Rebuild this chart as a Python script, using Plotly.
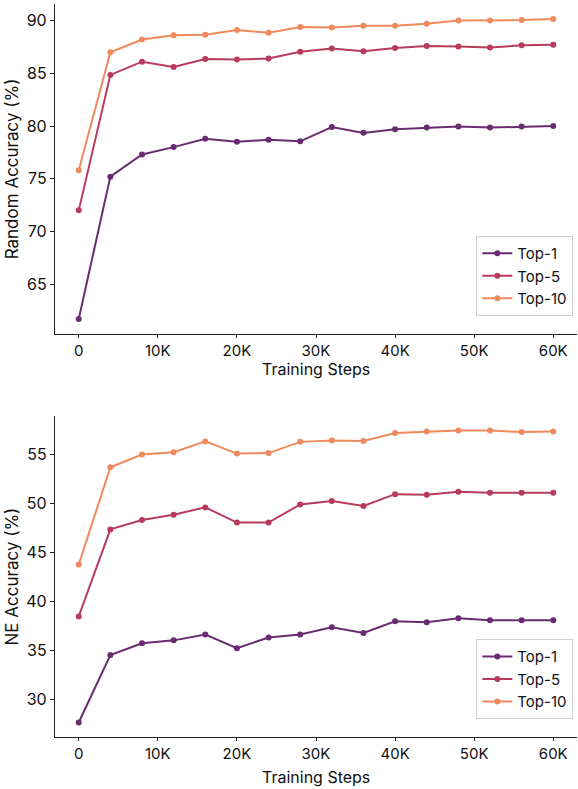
import plotly.graph_objects as go
from plotly.subplots import make_subplots

steps = [0, 4000, 8000, 12000, 16000, 20000, 24000, 28000, 32000, 36000,
         40000, 44000, 48000, 52000, 56000, 60000]
x_tickvals = [0, 10000, 20000, 30000, 40000, 50000, 60000]
x_ticktext = ["0", "10K", "20K", "30K", "40K", "50K", "60K"]

rand_top1 = [61.7, 75.2, 77.3, 78.0, 78.8, 78.5, 78.7, 78.55, 79.9, 79.35,
             79.7, 79.85, 79.95, 79.85, 79.95, 80.0]
rand_top5 = [72.0, 84.85, 86.1, 85.6, 86.35, 86.3, 86.4, 87.05, 87.35, 87.1,
             87.4, 87.6, 87.55, 87.45, 87.65, 87.7]
rand_top10 = [75.8, 87.0, 88.2, 88.6, 88.65, 89.1, 88.85, 89.4, 89.35, 89.5,
              89.5, 89.7, 90.0, 90.0, 90.05, 90.15]

ne_top1 = [27.6, 34.5, 35.7, 36.0, 36.6, 35.2, 36.3, 36.6, 37.35, 36.75,
           37.95, 37.85, 38.25, 38.05, 38.05, 38.05]
ne_top5 = [38.45, 47.35, 48.3, 48.85, 49.6, 48.05, 48.05, 49.9, 50.25, 49.75,
           50.95, 50.9, 51.2, 51.1, 51.1, 51.1]
ne_top10 = [43.75, 53.7, 55.0, 55.25, 56.35, 55.1, 55.15, 56.3, 56.45, 56.4,
            57.2, 57.35, 57.45, 57.45, 57.3, 57.35]

series_names = ["Top-1", "Top-5", "Top-10"]
colors = ["#6a2c70", "#b83b5e", "#f08a5d"]
x_title = "Training Steps"
y_titles = ["Random Accuracy (%)", "NE Accuracy (%)"]

FONT = "Inter, Liberation Sans, Arial, sans-serif"

fig = make_subplots(rows=2, cols=1, vertical_spacing=0.11)

panels = [
    (1, [rand_top1, rand_top5, rand_top10], "legend"),
    (2, [ne_top1, ne_top5, ne_top10], "legend2"),
]
for row, data, leg in panels:
    for name, vals, c in zip(series_names, data, colors):
        fig.add_trace(go.Scatter(
            x=steps, y=vals, mode="lines+markers", name=name,
            line=dict(color=c, width=2),
            marker=dict(color=c, size=6),
            legend=leg,
        ), row=row, col=1)


def pad_range(arrs):
    lo = min(min(a) for a in arrs)
    hi = max(max(a) for a in arrs)
    m = (hi - lo) * 0.05
    return [lo - m, hi + m]


axis_common = dict(
    showline=True, linecolor="#222", linewidth=1.3,
    ticks="outside", ticklen=4, tickwidth=1.2, tickcolor="#222",
    showgrid=False, zeroline=False, mirror=False,
    tickfont=dict(family=FONT, size=16, color="#111"),
)

for i in (1, 2):
    fig.update_xaxes(axis_common, row=i, col=1, ticklen=3,
                     tickfont=dict(family=FONT, size=15, color="#111"),
                     range=[-3000, 63000], tickvals=x_tickvals, ticktext=x_ticktext)

fig.update_yaxes(axis_common, row=1, col=1, dtick=5,
                 range=pad_range([rand_top1, rand_top5, rand_top10]),
                 title=dict(text=y_titles[0], standoff=3,
                            font=dict(family=FONT, size=17, color="#111")))
fig.update_yaxes(axis_common, row=2, col=1, dtick=5,
                 range=pad_range([ne_top1, ne_top5, ne_top10]),
                 title=dict(text=y_titles[1], standoff=3,
                            font=dict(family=FONT, size=17, color="#111")))

# x-axis titles as annotations for precise placement
for ypos in (0.5081, -0.0418):
    fig.add_annotation(text=x_title, xref="paper", yref="paper",
                       x=0.5, y=ypos, xanchor="center", yanchor="middle",
                       showarrow=False,
                       font=dict(family=FONT, size=16, color="#111"))

legend_style = dict(xanchor="right", yanchor="bottom",
                    bordercolor="#d0d0d0", borderwidth=1, bgcolor="white",
                    font=dict(family=FONT, size=15, color="#111"),
                    tracegroupgap=0, itemwidth=30)

fig.update_layout(
    width=578, height=789,
    margin=dict(l=55, r=1, t=4, b=43),
    plot_bgcolor="white", paper_bgcolor="white",
    xaxis=dict(domain=[0, 1]), yaxis=dict(domain=[0.5553, 1.0]),
    xaxis2=dict(domain=[0, 1]), yaxis2=dict(domain=[0.012, 0.4447]),
    legend=dict(legend_style, x=0.993, y=0.5795),
    legend2=dict(legend_style, x=0.993, y=0.036),
    showlegend=True,
)

fig.write_html("out.html")
